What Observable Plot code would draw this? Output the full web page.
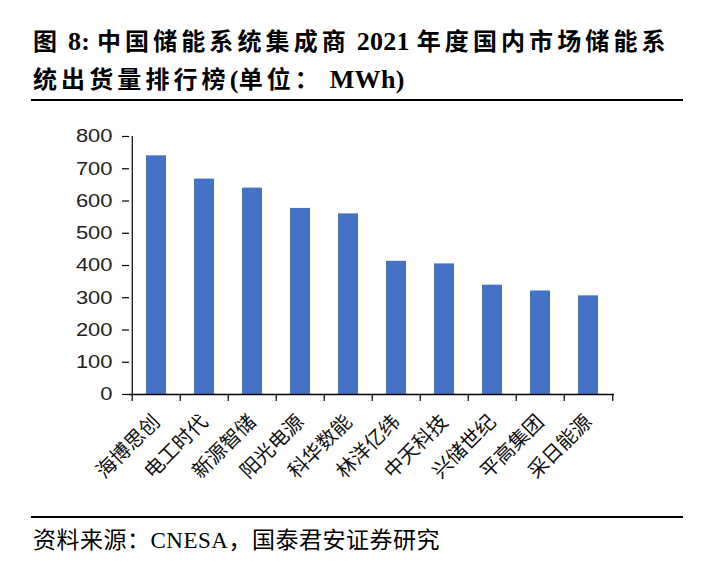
<!DOCTYPE html>
<html>
<head>
<meta charset="utf-8">
<script src="https://cdn.jsdelivr.net/npm/d3@7"></script>
<script src="https://cdn.jsdelivr.net/npm/@observablehq/plot@0.6"></script>
<style>
  html, body { margin: 0; padding: 0; background: #fff; }
  body { width: 716px; height: 564px; position: relative; overflow: hidden; }
  #title {
    position: absolute; left: 33px; top: 23px; width: 680px;
    font-family: 'Liberation Serif', 'Noto Sans CJK SC', serif;
    font-weight: bold; font-size: 24px; line-height: 38px; letter-spacing: 4.1px;
    color: #000; white-space: nowrap;
  }
  #title .l { letter-spacing: 0.3px; font-size: 26px; }
  .rule { position: absolute; left: 31px; width: 652px; height: 2px; background: #000; }
  #chart { position: absolute; left: 0; top: 110px; }
  #caption {
    position: absolute; left: 33px; top: 526px;
    font-family: 'Liberation Serif', 'Noto Sans CJK SC', serif;
    font-size: 23px; line-height: 30px; letter-spacing: 0.5px; color: #000; white-space: nowrap;
  }
</style>
</head>
<body>
<div id="title">图<span class="l"> 8: </span>中国储能系统集成商<span class="l"> 2021 </span>年度国内市场储能系<br>统出货量排行榜<span class="l">(</span>单位：<span class="l">&nbsp;MWh)</span></div>
<div class="rule" style="top:99px"></div>
<div id="chart"></div>
<div class="rule" style="top:516px"></div>
<div id="caption">资料来源：CNESA，国泰君安证券研究</div>
<script>
const categories = ["海博思创", "电工时代", "新源智储", "阳光电源", "科华数能", "林洋亿纬", "中天科技", "兴储世纪", "平高集团", "采日能源"];
const values = [740, 668, 640, 577, 560, 413, 405, 339, 321, 306];
const yTicks = [0, 100, 200, 300, 400, 500, 600, 700, 800];

const data = categories.map((name, i) => ({name, value: values[i]}));

const W = 716, H = 400, ML = 129, MR = 102, MT = 26, MB = 116;
const half = (W - ML - MR) / categories.length / 2;

const chart = Plot.plot({
  width: W, height: H,
  marginLeft: ML, marginRight: MR, marginTop: MT, marginBottom: MB,
  style: {fontFamily: "'Liberation Sans', 'Noto Sans CJK SC', sans-serif", fontSize: "18px", color: "#000", background: "#fff", overflow: "visible"},
  x: {type: "band", domain: categories, padding: 0},
  y: {domain: [0, 800]},
  marks: [
    Plot.barY(data, {x: "name", y: "value", fill: "#4472C4", insetLeft: 14, insetRight: 14}),
    Plot.ruleX([categories[0]], {dx: -half, y1: 0, y2: 800, stroke: "#000", strokeWidth: 1.2}),
    Plot.ruleX(categories, {dx: -half, y1: 0, y2: -22, stroke: "#000", strokeWidth: 1.2}),
    Plot.ruleX([categories[categories.length - 1]], {dx: half, y1: 0, y2: -22, stroke: "#000", strokeWidth: 1.2}),
    Plot.ruleY([0], {stroke: "#000", strokeWidth: 1.5}),
    Plot.axisY({ticks: yTicks, tickSize: 7, tickPadding: 10, fontSize: 18, stroke: "#000", strokeWidth: 1.2, fill: "#222", className: "yax", label: null}),
    Plot.axisX({tickRotate: -45, tickSize: 0, tickPadding: 24, fontSize: 20, fill: "#111", label: null})
  ]
});
document.getElementById("chart").appendChild(chart);
d3.select(chart).selectAll(".yax text").each(function() {
  const t = this.getAttribute("transform") || "";
  this.setAttribute("transform", t + " scale(1.22,1)");
});
</script>
</body>
</html>
